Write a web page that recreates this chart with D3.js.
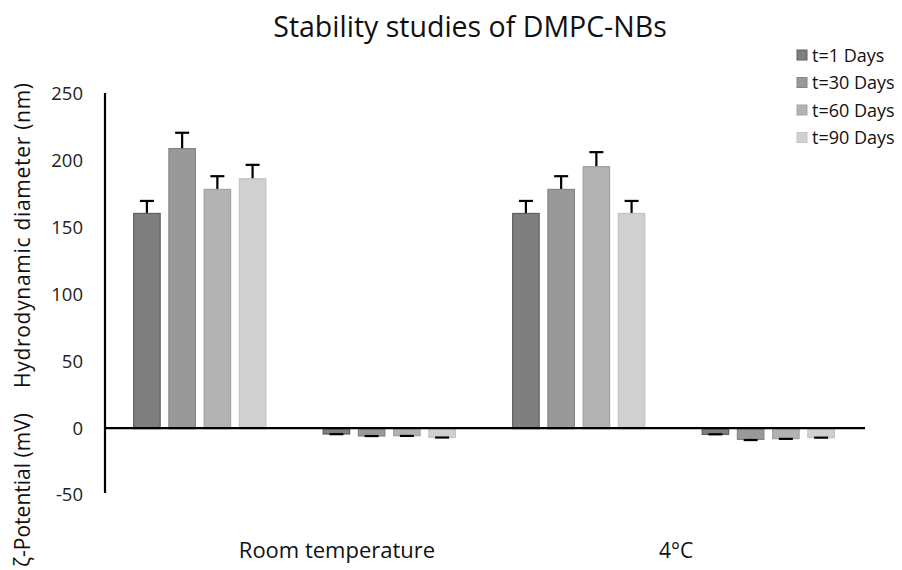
<!DOCTYPE html>
<html>
<head>
<meta charset="utf-8">
<script src="https://cdn.jsdelivr.net/npm/d3@7"></script>
<style>
  html, body { margin: 0; padding: 0; background: #fff; }
  svg { display: block; font-family: "Open Sans", "Noto Sans", sans-serif; }
</style>
</head>
<body>
<svg id="chart" width="902" height="570"></svg>
<script>
// ---- data ----
const groups = ["RT-diameter", "RT-zeta", "4C-diameter", "4C-zeta"];
const categoryLabels = ["Room temperature", "4°C"];
const seriesNames = ["t=1 Days", "t=30 Days", "t=60 Days", "t=90 Days"];
const rtDiameter = [161, 209.5, 179, 187];
const rtDiameterErr = [9, 11.5, 9.5, 10];
const rtZeta = [-4, -5.5, -5.3, -6.6];
const rtZetaErr = [0.5, 0.4, 0.5, 0.4];
const coldDiameter = [161, 179, 196, 161];
const coldDiameterErr = [9, 9.5, 10.5, 9];
const coldZeta = [-4.3, -8, -7.5, -6.7];
const coldZetaErr = [0.3, 0.9, 0.5, 0.4];
const yTicks = [-50, 0, 50, 100, 150, 200, 250];
const titleText = "Stability studies of DMPC-NBs";
const yLabelZeta = "ζ-Potential (mV)";
const yLabelDiameter = "Hydrodynamic diameter  (nm)";

const fills = ["#7f7f7f", "#999999", "#b2b2b2", "#d0d0d0"];
const strokes = ["#5e5e5e", "#858585", "#a3a3a3", "#c3c3c3"];

const groupValues = [
  { g: groups[0], v: rtDiameter, e: rtDiameterErr },
  { g: groups[1], v: rtZeta, e: rtZetaErr },
  { g: groups[2], v: coldDiameter, e: coldDiameterErr },
  { g: groups[3], v: coldZeta, e: coldZetaErr }
];

// ---- scales ----
const svg = d3.select("#chart");
const y = d3.scaleLinear().domain([-50, 250]).range([495, 94]);
const x0 = d3.scaleBand().domain(groups).range([105, 863]).padding(0);
const x1 = d3.scaleBand().domain(seriesNames).range([0, x0.bandwidth()])
  .paddingInner(0.22).paddingOuter(0.8);

// ---- title ----
svg.append("text").attr("x", 470).attr("y", 37)
  .attr("text-anchor", "middle").attr("font-size", 28.5).attr("fill", "#111")
  .text(titleText);

// ---- bars ----
const bars = [];
groupValues.forEach(gv => {
  gv.v.forEach((val, i) => bars.push({ g: gv.g, s: seriesNames[i], i, val, err: gv.e[i] }));
});

svg.append("g").selectAll("rect").data(bars).join("rect")
  .attr("x", d => x0(d.g) + x1(d.s) + 0.5)
  .attr("width", x1.bandwidth() - 1)
  .attr("y", d => Math.min(y(d.val), y(0)) + 0.5)
  .attr("height", d => Math.abs(y(d.val) - y(0)))
  .attr("fill", d => fills[d.i])
  .attr("stroke", d => strokes[d.i])
  .attr("stroke-width", 1.2);

// ---- error bars ----
const eg = svg.append("g").attr("stroke", "#000").attr("stroke-width", 2.2);
bars.forEach(d => {
  const cx = x0(d.g) + x1(d.s) + x1.bandwidth() / 2;
  const end = d.val >= 0 ? d.val + d.err : d.val - d.err;
  eg.append("line").attr("x1", cx).attr("x2", cx).attr("y1", y(d.val)).attr("y2", y(end));
  eg.append("line").attr("x1", cx - 7).attr("x2", cx + 7).attr("y1", y(end)).attr("y2", y(end));
});

// ---- axes ----
svg.append("line").attr("x1", x0.range()[0]).attr("x2", 865)
  .attr("y1", y(0)).attr("y2", y(0)).attr("stroke", "#000").attr("stroke-width", 2.2);

const yAxis = d3.axisLeft(y).tickValues(yTicks).tickSize(0).tickPadding(22)
  .tickFormat(d => String(d));
const ya = svg.append("g").attr("transform", `translate(${x0.range()[0]},0)`).call(yAxis);
ya.select(".domain").attr("stroke", "#000").attr("stroke-width", 2.2)
  .attr("d", `M0,${y(250) - 1}V${y(-50) - 2}`);
ya.selectAll("text").attr("font-size", 18.5).attr("fill", "#222")
  .attr("font-family", "'Open Sans', sans-serif");

// ---- category labels ----
svg.append("text").attr("x", 337).attr("y", 558).attr("text-anchor", "middle")
  .attr("font-size", 22).attr("fill", "#111").text(categoryLabels[0]);
svg.append("text").attr("x", 676).attr("y", 558).attr("text-anchor", "middle")
  .attr("font-size", 21).attr("fill", "#111").text(categoryLabels[1]);

// ---- y label ----
svg.append("text").attr("transform", "translate(30,567) rotate(-90)")
  .attr("font-size", 21).attr("fill", "#111").text(yLabelZeta);
svg.append("text").attr("transform", "translate(30,388) rotate(-90)")
  .attr("font-size", 21).attr("fill", "#111")
  .attr("textLength", 305).attr("lengthAdjust", "spacing")
  .text(yLabelDiameter);

// ---- legend ----
const lg = svg.append("g");
seriesNames.forEach((s, i) => {
  const cy = 55 + i * 27.5;
  lg.append("rect").attr("x", 797).attr("y", cy - 5).attr("width", 10).attr("height", 10)
    .attr("fill", fills[i]).attr("stroke", strokes[i]).attr("stroke-width", 1);
  lg.append("text").attr("x", 812).attr("y", cy + 6.5).attr("font-size", 18)
    .attr("fill", "#111").text(s);
});
</script>
</body>
</html>
